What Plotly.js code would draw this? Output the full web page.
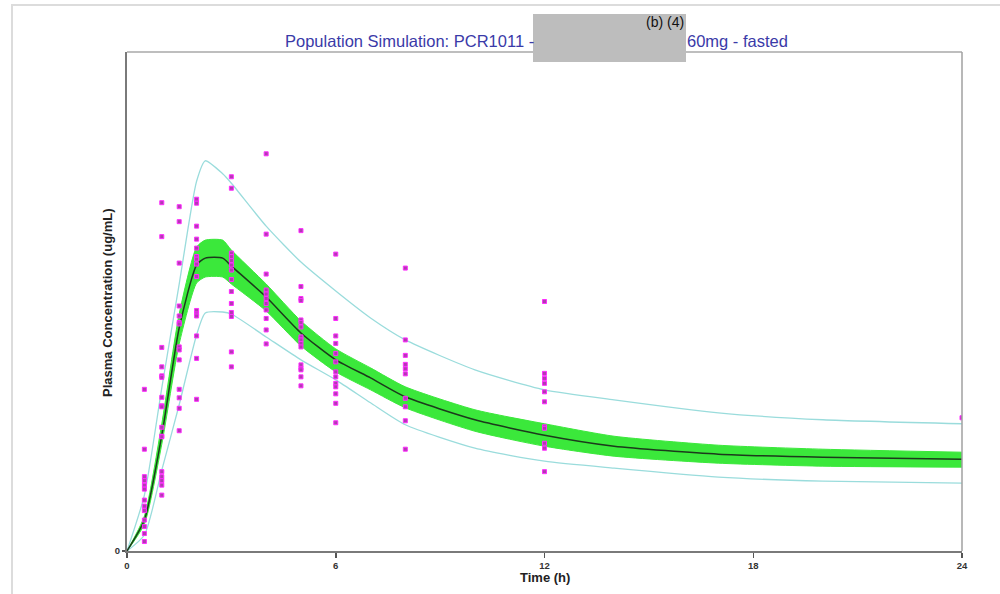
<!DOCTYPE html>
<html>
<head>
<meta charset="utf-8">
<script src="https://cdn.plot.ly/plotly-3.0.1.min.js"></script>
<style>
  html, body { margin: 0; padding: 0; background: #fff; }
  #wrap { position: relative; width: 1000px; height: 594px; overflow: hidden; }
  #chart { position: absolute; left: 0; top: 0; width: 1000px; height: 594px; }
  #frame { position: absolute; left: 11px; top: 4px; width: 1200px; height: 800px;
           border-top: 2px solid #dcdcdc; border-left: 2px solid #dcdcdc; pointer-events: none; }
</style>
</head>
<body>
<div id="wrap"><div id="chart"></div><div id="frame"></div></div>
<script>
const sampleTimes = [0.5, 1, 1.5, 2, 3, 4, 5, 6, 8, 12, 24];
const conc_t0_5 = [3.24, 2.04, 1.49, 1.41, 1.32, 1.24, 1.02, 0.90, 0.81, 0.62, 0.49, 0.35, 0.19];
const conc_t1   = [6.98, 6.30, 4.08, 3.69, 3.51, 3.48, 3.08, 2.91, 2.89, 2.48, 2.30, 2.29, 1.59, 1.49, 1.41, 1.32, 1.12];
const conc_t1_5 = [6.90, 6.60, 5.77, 4.91, 4.71, 4.58, 4.55, 4.09, 4.03, 3.83, 3.24, 3.07, 2.86, 2.41];
const conc_t2   = [7.05, 6.97, 6.51, 6.25, 6.07, 5.90, 5.85, 5.75, 5.50, 4.82, 4.75, 4.71, 4.31, 3.86, 3.04];
const conc_t3   = [7.50, 7.27, 5.97, 5.90, 5.82, 5.73, 5.63, 5.44, 5.20, 4.96, 4.78, 4.70, 3.99, 3.69];
const conc_t4   = [7.96, 6.35, 5.55, 5.23, 5.15, 5.06, 4.96, 4.83, 4.66, 4.43, 4.15];
const conc_t5   = [6.42, 5.30, 5.06, 5.02, 4.63, 4.58, 4.49, 4.29, 4.23, 4.16, 4.09, 3.73, 3.66, 3.63, 3.49, 3.31];
const conc_t6   = [5.95, 4.66, 4.31, 4.16, 3.96, 3.79, 3.59, 3.49, 3.36, 3.29, 3.15, 2.96, 2.57];
const conc_t8   = [5.67, 4.23, 3.92, 3.74, 3.65, 3.55, 3.06, 2.89, 2.61, 2.04];
const conc_t12  = [5.00, 3.56, 3.46, 3.36, 3.19, 2.99, 2.49, 2.46, 2.16, 2.06, 1.59];
const conc_t24  = [2.67];
const concByTime = [conc_t0_5, conc_t1, conc_t1_5, conc_t2, conc_t3, conc_t4, conc_t5, conc_t6, conc_t8, conc_t12, conc_t24];

// ---- Simulated population profiles ----
const simTime    = [0, 0.5, 1, 1.5, 2, 2.25, 2.75, 3, 4, 5, 6, 7, 8, 10, 12, 14, 17, 20, 24];
const simMedian  = [0, 0.62, 2.32, 4.47, 5.73, 5.87, 5.87, 5.71, 5.09, 4.37, 3.83, 3.47, 3.09, 2.63, 2.32, 2.10, 1.94, 1.88, 1.84];
const ciUpper    = [0, 0.70, 2.55, 4.75, 6.09, 6.23, 6.23, 6.03, 5.35, 4.61, 4.05, 3.67, 3.29, 2.83, 2.55, 2.30, 2.12, 2.04, 1.98];
const ciLower    = [0, 0.54, 2.14, 4.15, 5.37, 5.49, 5.49, 5.35, 4.81, 4.11, 3.59, 3.23, 2.87, 2.40, 2.10, 1.90, 1.76, 1.70, 1.68];
const piUpper    = [0, 1.12, 3.27, 5.35, 7.41, 7.82, 7.56, 7.37, 6.51, 5.79, 5.21, 4.67, 4.23, 3.63, 3.23, 3.03, 2.77, 2.63, 2.55];
const piLower    = [0, 0.32, 1.62, 2.93, 4.33, 4.77, 4.79, 4.75, 4.29, 3.83, 3.43, 2.97, 2.53, 2.06, 1.80, 1.66, 1.48, 1.40, 1.36];

// ---- Axis ticks and texts ----
const xTickVals = [0, 6, 12, 18, 24];
const xTickText = ['0', '6', '12', '18', '24'];
const yTickVals = [0];
const yTickText = ['0'];
const titleLeft = 'Population Simulation: PCR1011 -';
const titleRight = '60mg - fasted';
const redactLabel = '(b) (4)';
const xTitle = 'Time (h)';
const yTitle = 'Plasma Concentration (ug/mL)';

// build observation arrays
const obsX = [], obsY = [];
sampleTimes.forEach((t, i) => concByTime[i].forEach(c => { obsX.push(t); obsY.push(c); }));

const FONT = 'Liberation Sans, Arial, sans-serif';
const SM = 0.6;

const traces = [
  { x: simTime, y: ciLower, mode: 'lines', line: { color: '#3be83b', width: 1, shape: 'spline', smoothing: SM }, hoverinfo: 'skip', showlegend: false },
  { x: simTime, y: ciUpper, mode: 'lines', line: { color: '#3be83b', width: 1, shape: 'spline', smoothing: SM }, fill: 'tonexty', fillcolor: '#3be83b', hoverinfo: 'skip', showlegend: false },
  { x: simTime, y: piUpper, mode: 'lines', line: { color: '#9adcdc', width: 1.3, shape: 'spline', smoothing: SM }, showlegend: false },
  { x: simTime, y: piLower, mode: 'lines', line: { color: '#9adcdc', width: 1.3, shape: 'spline', smoothing: SM }, showlegend: false },
  { x: simTime, y: simMedian, mode: 'lines', line: { color: '#1c3a1c', width: 1.5, shape: 'spline', smoothing: SM }, showlegend: false },
  { x: obsX, y: obsY, mode: 'markers', marker: { symbol: 'square', size: 4, color: '#b03cb0', line: { color: '#ff2cff', width: 1 } }, showlegend: false }
];

const L = 127, R = 962, T = 52, B = 551;
const W = 1000, H = 594;
const px = v => (v - L) / (R - L);
const py = v => (B - v) / (B - T);

const layout = {
  width: W, height: H,
  margin: { l: L, r: W - R, t: T, b: H - B },
  paper_bgcolor: '#ffffff', plot_bgcolor: '#ffffff',
  showlegend: false,
  xaxis: {
    range: [0, 24], tickvals: xTickVals, ticktext: xTickText,
    ticks: 'outside', ticklen: 5, tickwidth: 1.5, tickcolor: '#555',
    showline: true, linecolor: '#7a7a7a', linewidth: 2,
    showgrid: false, zeroline: false,
    tickfont: { family: FONT, size: 9.5, color: '#333', weight: 'bold' }
  },
  yaxis: {
    range: [0, 10], tickvals: yTickVals, ticktext: yTickText,
    ticks: 'outside', ticklen: 3, tickwidth: 1.5, tickcolor: '#555',
    showline: true, linecolor: '#7a7a7a', linewidth: 2,
    showgrid: false, zeroline: false,
    tickfont: { family: FONT, size: 9.5, color: '#333', weight: 'bold' }
  },
  shapes: [
    { type: 'line', xref: 'paper', yref: 'paper', x0: 0, x1: 1, y0: 1, y1: 1, line: { color: '#a8a8a8', width: 1.5 } },
    { type: 'line', xref: 'paper', yref: 'paper', x0: 1, x1: 1, y0: 0, y1: 1, line: { color: '#a0a0a0', width: 1.5 } },
    { type: 'rect', xref: 'paper', yref: 'paper', layer: 'above',
      x0: px(533), x1: px(686), y0: py(62), y1: py(14), fillcolor: '#bdbdbd', line: { width: 0 } }
  ],
  annotations: [
    { text: titleLeft, xref: 'paper', yref: 'paper', x: px(536), y: py(41), xanchor: 'right', yanchor: 'middle', showarrow: false,
      font: { family: FONT, size: 16.5, color: '#3a3aa8' } },
    { text: titleRight, xref: 'paper', yref: 'paper', x: px(685), y: py(41), xanchor: 'left', yanchor: 'middle', showarrow: false,
      font: { family: FONT, size: 16.5, color: '#3a3aa8' } },
    { text: redactLabel, xref: 'paper', yref: 'paper', x: px(686), y: py(22), xanchor: 'right', yanchor: 'middle', showarrow: false,
      font: { family: FONT, size: 14, color: '#111' } },
    { text: xTitle, xref: 'paper', yref: 'paper', x: px(545), y: py(577), xanchor: 'center', yanchor: 'middle', showarrow: false,
      font: { family: FONT, size: 13, color: '#222', weight: 'bold' } },
    { text: yTitle, xref: 'paper', yref: 'paper', x: px(107), y: py(303), xanchor: 'center', yanchor: 'middle', showarrow: false, textangle: -90,
      font: { family: FONT, size: 13, color: '#222', weight: 'bold' } }
  ]
};

Plotly.newPlot('chart', traces, layout, { staticPlot: true, displayModeBar: false });
</script>
</body>
</html>
